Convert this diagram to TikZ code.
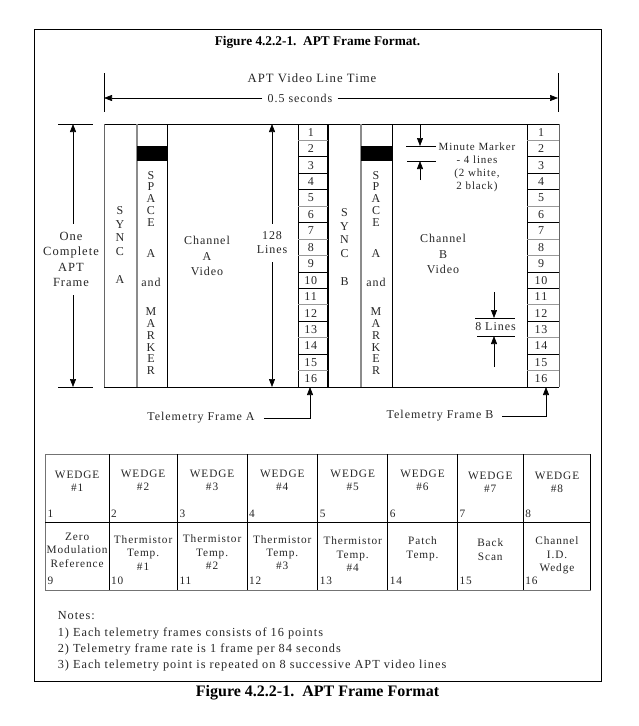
\documentclass[tikz,border=0pt]{standalone}
\usepackage{fontspec}
\setmainfont{Liberation Serif}
\newfontfamily\aptfont{Liberation Serif}[LetterSpace=8]
\usetikzlibrary{positioning,arrows.meta,calc}

\begin{document}
\begin{tikzpicture}[x=1pt, y=-1pt,
  txt/.style={inner sep=0pt, text=black!85, align=center,
              font=\aptfont\fontsize{12}{15.5}\selectfont},
  stk/.style={txt, font=\aptfont\fontsize{12}{11.8}\selectfont},
  syn/.style={txt, font=\aptfont\fontsize{12}{13.8}\selectfont},
  tab/.style={txt, font=\aptfont\fontsize{11.3}{13.3}\selectfont},
  head/.style={inner sep=0pt, font=\bfseries\fontsize{13.3}{16}\selectfont},
  arr/.style={-{Triangle[length=8pt,width=6pt]}, line width=0.6pt},
  tick/.style={line width=0.6pt},
  div/.style={draw=black!45, line width=1.4pt}
]
\useasboundingbox (0,0) rectangle (639,726);

% outer box and captions
\draw[line width=0.8pt] (34,29) rectangle (601,681);
\node[head] (title) at (317.5,42) {Figure 4.2.2-1.\ \ APT Frame Format.};
\node[head, font=\bfseries\fontsize{16}{18}\selectfont] (caption) at (317.5,693)
  {Figure 4.2.2-1.\ \ APT Frame Format};

% line time
\node[txt, font=\aptfont\fontsize{12.7}{15}\selectfont] (linetime) at (312,78.5) {APT Video Line Time};
\coordinate (tl) at (104,98);
\coordinate (tr) at (558,98);
\draw[tick] (104,73) -- (104,112) (558,73) -- (558,112);
\node[txt, fill=white, inner xsep=5pt] (secs) at (300,98) {0.5 seconds};
\draw[arr] (secs.west) -- (tl);
\draw[arr] (secs.east) -- (tr);

% frame outline and column borders
\draw[line width=0.8pt] (104,124) -- (559,124) (104,387) -- (559,387);
\draw[draw=black!60, line width=0.8pt] (104,124) -- (104,387);
\draw[div] (137,124) -- (137,387);
\draw[line width=0.7pt] (167,124) -- (167,387);
\draw[line width=1.6pt] (328,124) -- (328,387);
\draw[div] (361,124) -- (361,387);
\draw[line width=0.7pt] (392,124) -- (392,387);
\draw[draw=black!60, line width=0.8pt] (559,124) -- (559,387);
\fill (137,146) rectangle (167,161);
\fill (361,146) rectangle (392,161);

% telemetry columns
\foreach \s/\xa/\xb in {A/298/327.5, B/527/559} {
  \draw[line width=0.7pt] (\xa,124) -- (\xa,387);
  \foreach \i/\c in {1/black!40,2/black,3/black,4/black,5/black!40,6/black,7/black!40,
                     8/black!40,9/black,10/black,11/black!40,12/black,13/black!40,14/black,15/black!40}
    \draw[draw=\c, line width=0.8pt] (\xa,{124+\i*16.4375}) -- (\xb,{124+\i*16.4375});
  \foreach \i in {1,...,16}
    \node[txt] (tel\s\i) at ({(\xa+\xb)/2-2},{124+(\i-0.5)*16.4375}) {\i};
}

% sync and space columns
\node[syn] (syncA) at (120,245) {S\\Y\\N\\C\\[14.2pt]A};
\node[stk] (spaceA) at (151,273) {S\\P\\A\\C\\E\\[19.7pt]A\\[16.6pt]and\\[17.7pt]M\\A\\R\\K\\E\\R};
\node[syn] (syncB) at (344.5,247) {S\\Y\\N\\C\\[14.2pt]B};
\node[stk] (spaceB) at (376,273) {S\\P\\A\\C\\E\\[19.7pt]A\\[16.6pt]and\\[17.7pt]M\\A\\R\\K\\E\\R};

% video areas
\node[txt] (vidA) at (207,256) {Channel\\A\\Video};
\node[txt] (vidB) at (443,254) {Channel\\B\\Video};

% frame height
\node[txt, inner ysep=8pt, font=\aptfont\fontsize{12.5}{15.6}\selectfont] (frm) at (71,259.5) {One\\Complete\\APT\\Frame};
\coordinate (ftop) at (73,124);
\coordinate (fbot) at (73,387);
\draw[tick] (58,124) -- (93,124) (58,387) -- (93,387);
\draw[arr] (frm.north -| ftop) -- (ftop);
\draw[arr] (frm.south -| fbot) -- (fbot);

\node[txt, inner ysep=8pt, font=\aptfont\fontsize{12}{14}\selectfont] (lines) at (272,243) {128\\Lines};
\coordinate (ltop) at (272,124);
\coordinate (lbot) at (272,387);
\draw[arr] (lines.north -| ltop) -- (ltop);
\draw[arr] (lines.south -| lbot) -- (lbot);

% minute marker
\coordinate (mmtop) at (420,124);
\coordinate (mm1) at (420,146);
\coordinate (mm2) at (420,161);
\coordinate (mmbot) at (420,180);
\draw[tick] (406,146) -- (436,146) (407,161) -- (436,161);
\draw[arr] (mmtop) -- (mm1);
\draw[arr] (mmbot) -- (mm2);
\node[txt, font=\aptfont\fontsize{11}{13}\selectfont] (mmtxt) at (477,167.5)
  {Minute Marker\\- 4 lines\\(2 white,\\ 2 black)};

% eight lines
\node[txt] (eight) at (495.5,327) {8 Lines};
\draw[tick] (475,318) -- (515,318) (477,336) -- (515,336);
\coordinate (e1) at (494,292);
\coordinate (e2) at (494,318);
\coordinate (e3) at (494,367);
\coordinate (e4) at (494,336);
\draw[arr] (e1) -- (e2);
\draw[arr] (e3) -- (e4);

% telemetry frame labels
\node[txt] (telfA) at (201,418) {Telemetry Frame A};
\coordinate (telAt) at (310,387);
\draw[arr] ([xshift=9pt]telfA.east) -| (telAt);
\node[txt] (telfB) at (440,416) {Telemetry Frame B};
\coordinate (telBt) at (546,387);
\draw[arr] ([xshift=9pt]telfB.east) -| (telBt);

% wedge table
\draw[draw=black!55, line width=0.8pt] (45.4,454) rectangle (590.8,590);
\draw[line width=0.7pt] (45.4,522.3) -- (590.8,522.3);
\foreach \xa/\xb/\n/\m/\wy/\ly/\lab in {
    45.4/108.9/1/9/481.3/550.3/{Zero\\Modulation\\Reference},
    108.9/177.3/2/10/480.5/552.8/{Thermistor\\Temp.\\\#1},
    177.3/246.9/3/11/480.5/552.1/{Thermistor\\Temp.\\\#2},
    246.9/317.7/4/12/480.5/552.8/{Thermistor\\Temp.\\\#3},
    317.7/387.7/5/13/480.5/554.3/{Thermistor\\Temp.\\\#4},
    387.7/457.3/6/14/480.5/548.8/{Patch\\Temp.},
    457.3/523.2/7/15/482.4/549.5/{Back\\Scan},
    523.2/590.8/8/16/482.4/555.5/{Channel\\I.D.\\Wedge}} {
  \draw[line width=0.7pt] (\xb,454) -- (\xb,590);
  \node[tab] (wdg\n) at ({(\xa+\xb)/2},\wy) {WEDGE\\\#\n};
  \node[tab, anchor=west] (num\n) at (\xa+2,514) {\n};
  \node[tab] (pt\m) at ({(\xa+\xb)/2},\ly) {\lab};
  \node[tab, anchor=west] (num\m) at (\xa+2,581) {\m};
}

% notes
\node[txt, anchor=west, align=left, font=\aptfont\fontsize{12.3}{16.2}\selectfont] (notes) at (57.6,641.4)
  {Notes:\\1) Each telemetry frames consists of 16 points\\2) Telemetry frame rate is 1 frame per 84 seconds\\3) Each telemetry point is repeated on 8 successive APT video lines};
\end{tikzpicture}
\end{document}
